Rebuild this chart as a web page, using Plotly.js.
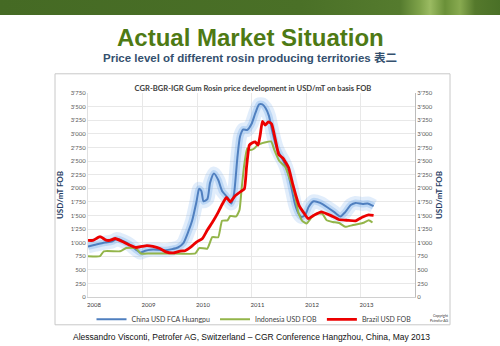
<!DOCTYPE html>
<html>
<head>
<meta charset="utf-8">
<script src="https://cdn.plot.ly/plotly-3.0.1.min.js"></script>
<style>
html,body{margin:0;padding:0;background:#fff;}
#wrap{position:relative;width:500px;height:346px;overflow:hidden;}
#banner{position:absolute;left:0;top:0;width:500px;height:15px;z-index:2;
background:linear-gradient(90deg,#456a24 0%,#4a7027 60%,#557b2e 80%,#7fa34a 84%,#9bbb62 86%,#6a9038 89%,#88aa50 92%,#55792c 95%,#4a7027 100%);}
#chart{position:absolute;left:0;top:0;width:500px;height:346px;}
</style>
</head>
<body>
<div id="wrap"><div id="chart"></div><div id="banner"></div></div>
<script>
// ---- data ----
const seriesNames = ["China USD FCA Huangpu", "Indonesia USD FOB", "Brazil USD FOB"];

const chinaT = [2008.00,2008.13,2008.31,2008.44,2008.53,2008.64,2008.77,2008.88,2008.96,2009.05,2009.14,2009.29,2009.42,2009.54,2009.65,2009.75,2009.84,2009.91,2009.99,2010.04,2010.08,2010.12,2010.19,2010.24,2010.31,2010.39,2010.46,2010.56,2010.63,2010.68,2010.74,2010.79,2010.85,2010.92,2011.00,2011.07,2011.14,2011.20,2011.26,2011.32,2011.38,2011.46,2011.53,2011.60,2011.67,2011.73,2011.80,2011.86,2011.92,2011.99,2012.05,2012.14,2012.26,2012.39,2012.52,2012.63,2012.72,2012.82,2012.91,2013.04,2013.13,2013.24];
const chinaV = [930,960,1000,1020,1065,1030,960,870,815,850,870,870,860,880,910,990,1200,1400,1750,1990,1950,1760,1800,2100,2270,2150,1950,1830,1720,1900,2550,2950,3080,3070,3180,3380,3540,3540,3470,3330,3050,2750,2600,2470,2280,2020,1700,1540,1470,1520,1660,1760,1730,1650,1560,1480,1560,1690,1730,1710,1720,1670];

const indoT = [2008.00,2008.22,2008.29,2008.59,2008.70,2008.88,2008.97,2009.14,2009.51,2009.97,2010.04,2010.19,2010.28,2010.39,2010.46,2010.56,2010.61,2010.72,2010.78,2010.82,2010.87,2010.92,2010.99,2011.05,2011.12,2011.24,2011.36,2011.42,2011.51,2011.62,2011.71,2011.79,2011.86,2011.93,2012.01,2012.10,2012.19,2012.30,2012.38,2012.49,2012.61,2012.72,2012.85,2012.96,2013.07,2013.15,2013.22];
const indoV = [750,750,840,840,900,900,800,800,800,800,900,890,1100,1100,1400,1410,1490,1480,1600,2000,2450,2730,2700,2730,2800,2840,2860,2700,2500,2390,2150,1900,1550,1400,1350,1460,1530,1530,1410,1380,1360,1290,1320,1340,1370,1410,1370];

const brazilT = [2008.00,2008.09,2008.22,2008.33,2008.40,2008.50,2008.63,2008.77,2008.88,2008.99,2009.08,2009.19,2009.32,2009.43,2009.56,2009.69,2009.78,2009.89,2009.99,2010.10,2010.19,2010.30,2010.39,2010.46,2010.54,2010.61,2010.70,2010.79,2010.87,2010.91,2010.96,2011.01,2011.07,2011.12,2011.16,2011.20,2011.25,2011.31,2011.37,2011.44,2011.50,2011.58,2011.68,2011.75,2011.81,2011.87,2011.95,2012.04,2012.14,2012.28,2012.45,2012.60,2012.76,2012.91,2013.04,2013.15,2013.24];
const brazilV = [1040,1040,1110,1045,1040,1075,1020,950,910,930,945,930,890,830,810,845,850,920,1010,1075,1230,1400,1560,1700,1830,1750,1860,1930,1990,2400,2790,2830,2850,2790,2980,3230,3160,3220,3180,2880,2620,2550,2380,2100,1880,1690,1560,1440,1500,1565,1500,1425,1410,1400,1470,1510,1500];

const yearTicks = [2008, 2009, 2010, 2011, 2012, 2013];
const yearLabels = ["2008", "2009", "2010", "2011", "2012", "2013"];
const priceTicks = [0,250,500,750,1000,1250,1500,1750,2000,2250,2500,2750,3000,3250,3500,3750];

// ---- layout helpers (pixel -> paper) ----
const L = 88, R = 415, T = 92.7, B = 296.7;
const fx = x => (x - L) / (R - L);
const fy = y => (B - y) / (B - T);

const chartFont = "Lato, 'Open Sans', sans-serif";

const traces = [
  {x: chinaT, y: chinaV, type: "scatter", mode: "lines", line: {color: "rgba(120,175,235,0.22)", width: 14, shape: "spline", smoothing: 0.6}, showlegend: false, hoverinfo: "skip"},
  {x: chinaT, y: chinaV, type: "scatter", mode: "lines", line: {color: "rgba(120,175,235,0.35)", width: 7, shape: "spline", smoothing: 0.6}, showlegend: false, hoverinfo: "skip"},
  {x: chinaT, y: chinaV, type: "scatter", mode: "lines", name: seriesNames[0], line: {color: "#4f7fbf", width: 2, shape: "spline", smoothing: 0.6}},
  {x: indoT, y: indoV, type: "scatter", mode: "lines", name: seriesNames[1], yaxis: "y2", line: {color: "#93b54a", width: 2, shape: "spline", smoothing: 0.4}},
  {x: brazilT, y: brazilV, type: "scatter", mode: "lines", name: seriesNames[2], yaxis: "y2", line: {color: "#ec0000", width: 2.8, shape: "spline", smoothing: 0.4}}
];

const yCommon = {
  range: [0, 3750], tickvals: priceTicks, tickformat: ",d", fixedrange: true,
  tickfont: {family: chartFont, size: 6, color: "#595959"},
  zeroline: false
};

const layout = {
  width: 500, height: 346,
  margin: {l: L, r: 500 - R, t: 93, b: 49, pad: 0},
  paper_bgcolor: "rgba(0,0,0,0)", plot_bgcolor: "#ffffff",
  separators: ".'",
  title: {
    text: "<b>CGR-BGR-IGR Gum Rosin price development in USD/mT on basis FOB</b>",
    x: 253 / 500, xref: "container", xanchor: "center",
    y: 1 - 88 / 346, yref: "container", yanchor: "middle",
    font: {family: chartFont, size: 7.6, color: "#404040"}
  },
  xaxis: {
    range: [2008, 2014], tickvals: yearTicks, ticktext: yearLabels,
    showgrid: true, gridcolor: "#e8e8e8", gridwidth: 1,
    showline: true, linecolor: "#d0d0d0", linewidth: 1,
    ticks: "", ticklabelshift: 6, ticklabelstandoff: 2,
    tickfont: {family: chartFont, size: 6, color: "#404040"},
    zeroline: false
  },
  yaxis: Object.assign({}, yCommon, {
    showgrid: true, gridcolor: "#e8e8e8", gridwidth: 1,
    showline: true, linecolor: "#e0e0e0", ticks: "",
    title: {text: "<b>USD/mT FOB</b>", standoff: 5, font: {family: chartFont, size: 8, color: "#1f3d63"}}
  }),
  yaxis2: Object.assign({}, yCommon, {
    overlaying: "y", side: "right", showgrid: false,
    showline: true, linecolor: "#bcbcbc", ticks: "",
    title: {text: "<b>USD/mT FOB</b>", standoff: 4, font: {family: chartFont, size: 8, color: "#1f3d63"}}
  }),
  legend: {
    orientation: "h", x: fx(254), xanchor: "center", y: fy(319), yanchor: "middle",
    font: {family: chartFont, size: 7, color: "#404040"}, bgcolor: "rgba(0,0,0,0)",
    itemwidth: 30, tracegroupgap: 0
  },
  shapes: [
    {type: "rect", xref: "paper", yref: "paper", x0: fx(55), x1: fx(450), y0: fy(73.5), y1: fy(324.5),
     line: {color: "#c8c8c8", width: 1}, fillcolor: "rgba(0,0,0,0)", layer: "below"}
  ],
  annotations: [
    {text: "<b>Actual Market Situation</b>", xref: "paper", yref: "paper", x: fx(250), y: fy(37), xanchor: "center", yanchor: "middle", showarrow: false,
     font: {family: "'Liberation Sans', Arial, sans-serif", size: 24, color: "#4e7a14"}},
    {text: "<b>Price level of different rosin producing territories 表二</b>", xref: "paper", yref: "paper", x: fx(250), y: fy(57.5), xanchor: "center", yanchor: "middle", showarrow: false,
     font: {family: "'Liberation Sans', 'Noto Sans CJK SC', sans-serif", size: 11.5, color: "#34506e"}},
    {text: "Alessandro Visconti, Petrofer AG, Switzerland – CGR Conference Hangzhou, China, May 2013", xref: "paper", yref: "paper", x: fx(251), y: fy(337), xanchor: "center", yanchor: "middle", showarrow: false,
     font: {family: "'Liberation Sans', Arial, sans-serif", size: 8.5, color: "#111111"}},
    {text: "Copyright<br>Petrofer AG", xref: "paper", yref: "paper", x: fx(440), y: fy(318), xanchor: "center", yanchor: "middle", showarrow: false, align: "right",
     font: {family: chartFont, size: 3.5, color: "#333333"}}
  ]
};

Plotly.newPlot("chart", traces, layout, {displayModeBar: false, staticPlot: true});
</script>
</body>
</html>
